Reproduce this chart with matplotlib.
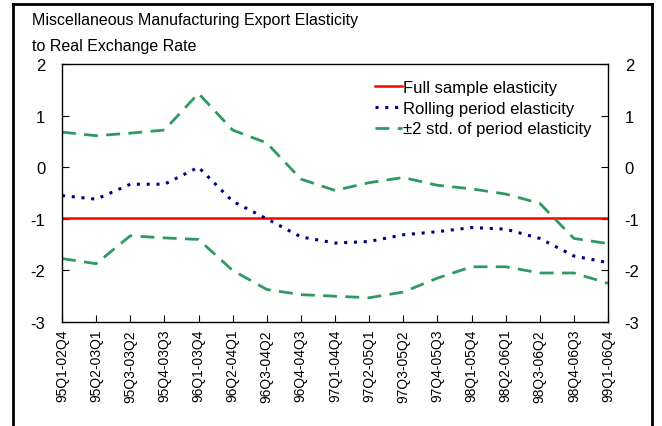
import matplotlib
matplotlib.use("Agg")
import matplotlib.pyplot as plt
from matplotlib.lines import Line2D

plt.rcParams["font.family"] = ["Liberation Sans", "DejaVu Sans"]

periods = ["95Q1-02Q4", "95Q2-03Q1", "95Q3-03Q2", "95Q4-03Q3", "96Q1-03Q4", "96Q2-04Q1",
           "96Q3-04Q2", "96Q4-04Q3", "97Q1-04Q4", "97Q2-05Q1", "97Q3-05Q2", "97Q4-05Q3",
           "98Q1-05Q4", "98Q2-06Q1", "98Q3-06Q2", "98Q4-06Q3", "99Q1-06Q4"]
full_sample = -0.98
rolling = [-0.55, -0.62, -0.33, -0.33, 0.0, -0.66, -1.0, -1.35, -1.47, -1.44, -1.31,
           -1.25, -1.17, -1.2, -1.38, -1.72, -1.85]
upper = [0.68, 0.61, 0.66, 0.72, 1.43, 0.72, 0.47, -0.23, -0.45, -0.3, -0.2, -0.35,
         -0.42, -0.52, -0.7, -1.38, -1.48]
lower = [-1.77, -1.87, -1.33, -1.37, -1.4, -2.0, -2.37, -2.47, -2.5, -2.53, -2.42,
         -2.15, -1.93, -1.93, -2.05, -2.05, -2.25]

fig = plt.figure(figsize=(6.62, 4.27), dpi=100)
ax = fig.add_axes([62 / 662, 1 - 323 / 427, (608 - 62) / 662, (323 - 65) / 427])

x = list(range(len(periods)))
green = "#2e9a62"
ax.plot(x, [full_sample] * len(x), color="#ff0000", lw=1.8, label="Full sample elasticity")
ax.plot(x, rolling, color="#00007f", lw=2.2, linestyle=(0, (1, 2.2)),
        label="Rolling period elasticity")
ax.plot(x, upper, color=green, lw=2, linestyle=(0, (5, 3)),
        label="±2 std. of period elasticity")
ax.plot(x, lower, color=green, lw=2, linestyle=(0, (5, 3)))

ax.set_xlim(0, len(periods) - 1)
ax.set_ylim(-3, 2)
ax.set_xticks(x)
ax.set_xticklabels(periods, rotation=90, fontsize=10)
ax.set_yticks([-3, -2, -1, 0, 1, 2])
ax.set_yticklabels(["-3", "-2", "-1", "0", "1", "2"], fontsize=12)
ax.tick_params(axis="both", direction="in", length=5, width=0.8, pad=12,
               left=True, right=True, labelright=True)
ax.tick_params(axis="x", pad=5)
for s in ax.spines.values():
    s.set_linewidth(1.0)

leg = ax.legend(loc="upper right", frameon=False, fontsize=12, handlelength=1.6,
                handletextpad=0.1, labelspacing=0.35, bbox_to_anchor=(0.998, 0.997))

fig.text(32 / 662, 1 - 25 / 427, "Miscellaneous Manufacturing Export Elasticity",
         fontsize=11.5)
fig.text(32 / 662, 1 - 51 / 427, "to Real Exchange Rate", fontsize=11.5)

# outer frame
fig.add_artist(Line2D([13 / 662, 13 / 662], [0, 1 - 5 / 427], color="black", lw=2,
                      transform=fig.transFigure))
fig.add_artist(Line2D([652 / 662, 652 / 662], [0, 1 - 5 / 427], color="black", lw=2,
                      transform=fig.transFigure))
fig.add_artist(Line2D([13 / 662, 652 / 662], [1 - 5 / 427, 1 - 5 / 427], color="black",
                      lw=2, transform=fig.transFigure))

fig.savefig("out.png", dpi=100)
